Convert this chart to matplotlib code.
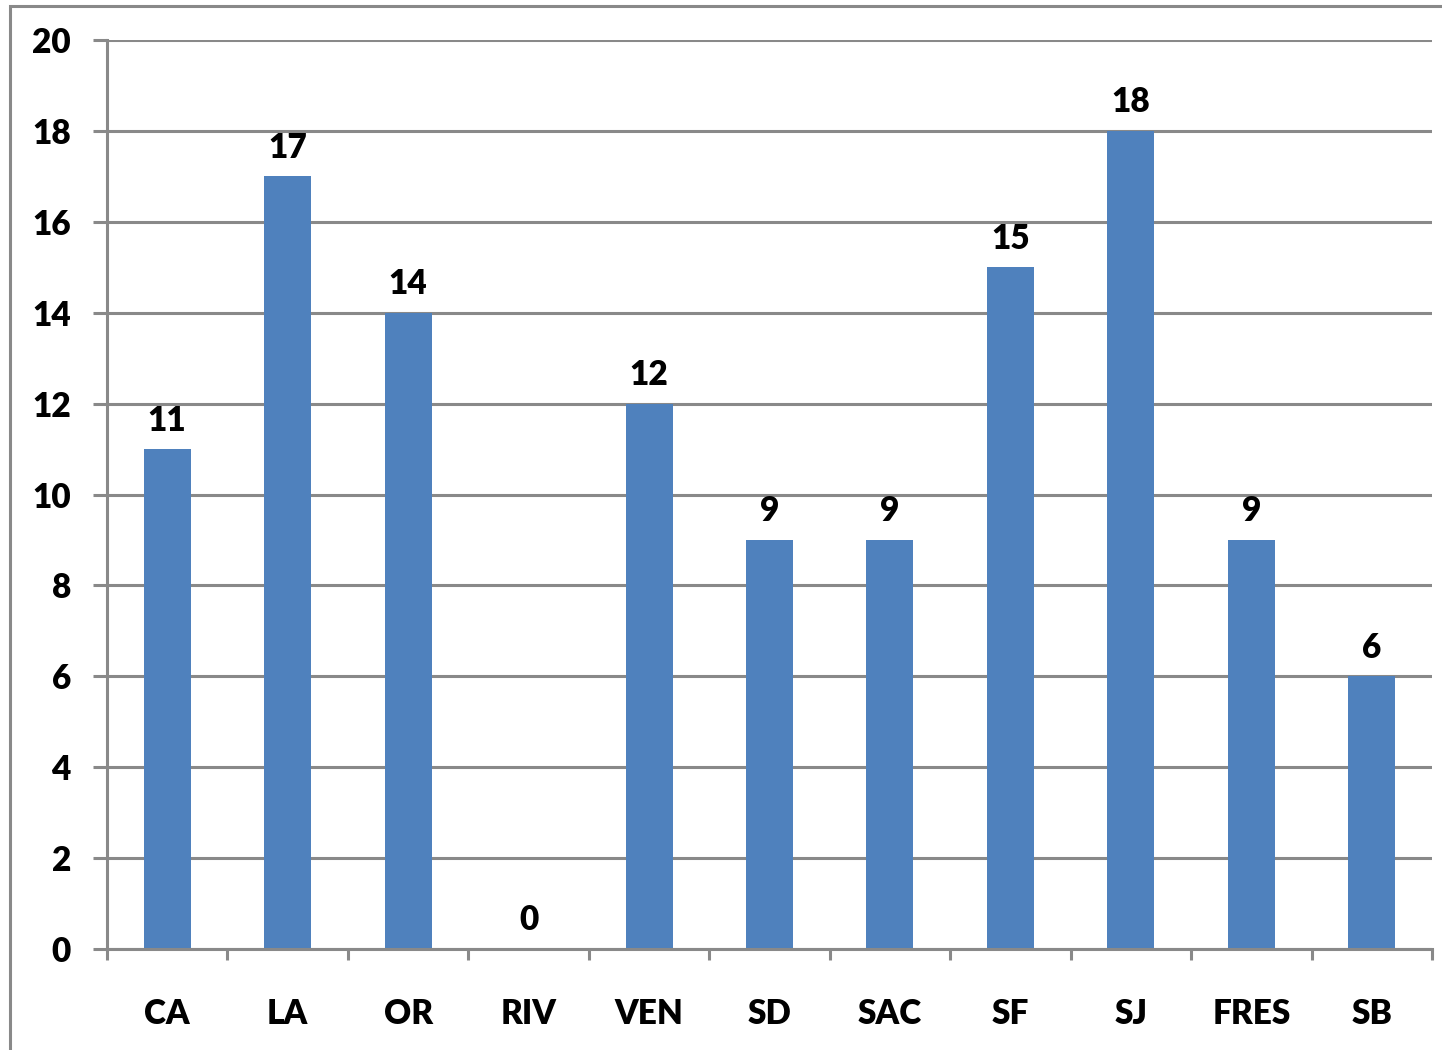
import matplotlib
matplotlib.use("Agg")
import matplotlib.pyplot as plt
from matplotlib.patches import Rectangle
from matplotlib.ticker import FixedLocator

categories = ["CA", "LA", "OR", "RIV", "VEN", "SD", "SAC", "SF", "SJ", "FRES", "SB"]
values = [11, 17, 14, 0, 12, 9, 9, 15, 18, 9, 6]
yticks = [0, 2, 4, 6, 8, 10, 12, 14, 16, 18, 20]

plt.rcParams['font.family'] = ['Lato', 'DejaVu Sans']
W = 'heavy'
FS = 24
gray = '#898989'
bar_color = '#4F81BD'

fig = plt.figure(figsize=(14.42, 10.5), dpi=100)
fig.patches.append(Rectangle((10/1442, -0.1), 1.2, 1.1 - 6/1050, transform=fig.transFigure,
                             fill=False, edgecolor=gray, linewidth=2.2))
ax = fig.add_axes([107/1442, 1 - 949/1050, (1432 - 107)/1442, (949 - 40)/1050])

x = list(range(len(categories)))
ax.bar(x, values, width=0.39, color=bar_color, zorder=3)
for xi, v in zip(x, values):
    ax.annotate(str(v), (xi, v), xytext=(0, 9), textcoords='offset points',
                ha='center', va='bottom', fontsize=FS, fontweight=W, color='black')

ax.set_xlim(-0.5, len(categories) - 0.5)
ax.set_ylim(0, 20)
ax.set_yticks(yticks)
ax.set_yticklabels([str(t) for t in yticks], fontsize=FS, fontweight=W)
ax.set_xticks(x)
ax.set_xticklabels(categories, fontsize=FS, fontweight=W)
ax.xaxis.set_minor_locator(FixedLocator([i - 0.5 for i in range(len(categories) + 1)]))
ax.tick_params(axis='x', which='major', length=0, pad=35)
ax.tick_params(axis='x', which='minor', length=8, width=2.2, color=gray, direction='out')
ax.tick_params(axis='y', length=10, width=2.2, color=gray, pad=16)
ax.grid(axis='y', color=gray, linewidth=2.2, zorder=0)
ax.set_axisbelow(True)
for s in ['top', 'right']:
    ax.spines[s].set_visible(False)
for s in ['left', 'bottom']:
    ax.spines[s].set_color(gray)
    ax.spines[s].set_linewidth(2.2)
    ax.spines[s].set_zorder(4)

fig.savefig("out.png", dpi=100)
